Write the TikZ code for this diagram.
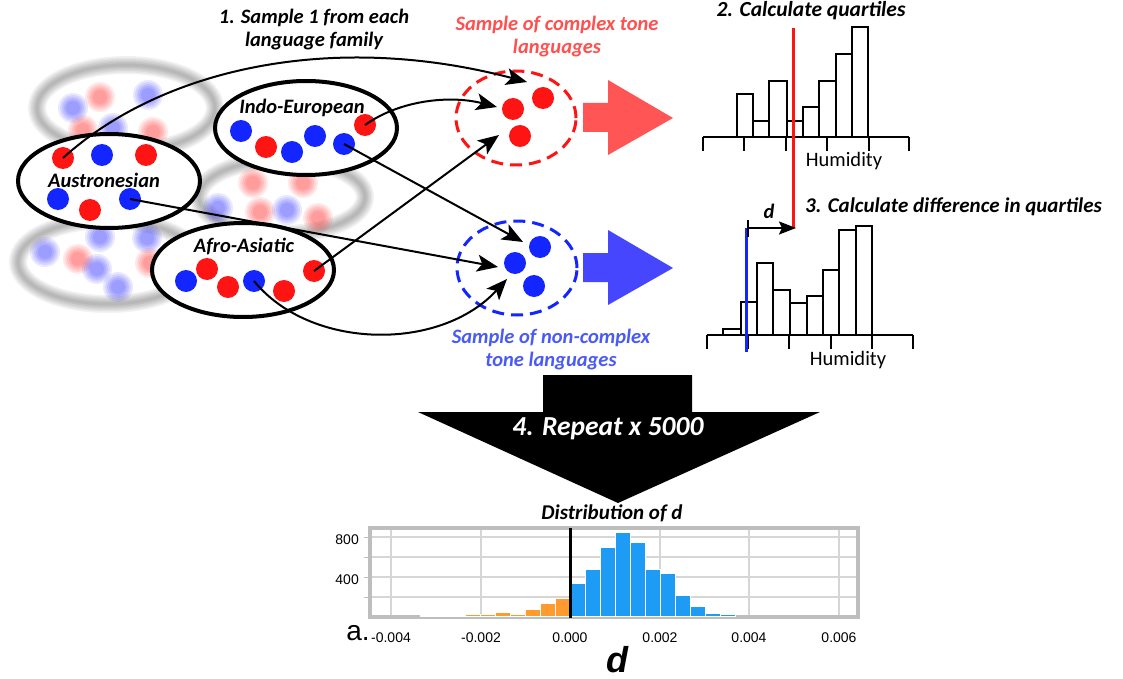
\documentclass[tikz,border=0pt]{standalone}
\usepackage{fontspec}
\setmainfont{Carlito}
\newfontfamily\arialf{Liberation Sans}
\usetikzlibrary{arrows.meta,shapes.geometric}
\definecolor{dotred}{HTML}{FF1414}
\definecolor{dotblue}{HTML}{1426FF}
\definecolor{lblred}{HTML}{FF5050}
\definecolor{lblblue}{HTML}{4A5AF5}
\definecolor{arrred}{HTML}{FF5555}
\definecolor{arrblue}{HTML}{4646FF}
\definecolor{histblue}{HTML}{1E9BF5}
\definecolor{historange}{HTML}{FF9A2E}
\definecolor{framegray}{HTML}{BEBEBE}
\definecolor{gridgray}{HTML}{D6D6D6}
\begin{document}
\begin{tikzpicture}[x=1pt,y=-1pt,
  rdot/.style={circle,fill=dotred,minimum size=22pt,inner sep=0pt},
  bdot/.style={circle,fill=dotblue,minimum size=22pt,inner sep=0pt},
  fam/.style={ellipse,draw,line width=4pt,fill=white,inner sep=0pt,minimum width=182pt,minimum height=94pt},
  samp/.style={ellipse,line width=3pt,dash pattern=on 12pt off 7pt,inner sep=0pt,minimum width=120pt,minimum height=94pt},
  bi/.style={font=\fontsize{20.5}{23}\selectfont\bfseries\itshape,align=center,inner sep=0pt},
  conn/.style={line width=2pt,-{Stealth[length=21pt,width=17pt,inset=5pt]}},
  hbar/.style={draw=black,line width=1.4pt,fill=white},
  haxis/.style={line width=1.8pt},
  tick/.style={line width=1.2pt},
  hum/.style={font=\fontsize{20.5}{23}\selectfont,inner sep=0pt},
  axl/.style={font=\arialf\fontsize{14}{16}\selectfont,inner sep=0pt},
]
\useasboundingbox (0,0) rectangle (1123,679);
\fill[white] (0,0) rectangle (1123,679);

% ---------- blurred background families ----------
\foreach \cx/\cy/\rx/\ry in {126/108/89/43, 282/197/83/37, 108/262/90/42}{
  \foreach \w in {18,15,12,9,6,3}
    \draw[black,opacity=0.05,line width=\w pt] (\cx,\cy) ellipse [x radius=\rx pt, y radius=\ry pt];
}
\foreach \px/\py/\c in {73/108/blue,100/97/red,148/95/blue,83/130/red,113/128/blue,153/132/red,
  253/183/red,303/183/red,218/208/blue,260/212/red,287/210/blue,318/218/red,
  45/252/blue,78/259/red,100/237/blue,147/238/blue,97/269/blue,118/287/blue,150/263/red}{
  \foreach \r in {15,13,11,9,7}
    \fill[\c,opacity=0.09] (\px,\py) circle (\r pt);
}

% ---------- language families ----------
\node[fam] (austro) at (109,181) {};
\node[bi] (austroL) at (104,180) {Austronesian};
\node[rdot] (a1) at (63,158) {};
\node[bdot] (a2) at (102,155) {};
\node[rdot] (a3) at (146,155) {};
\node[bdot] (a4) at (58,199) {};
\node[rdot] (a5) at (90,210) {};
\node[bdot] (a6) at (130,199) {};

\node[fam] (indo) at (306,128) {};
\node[bi] (indoL) at (302,108) {Indo-European};
\node[bdot] (i1) at (241,131) {};
\node[rdot] (i2) at (266,147) {};
\node[bdot] (i3) at (292,152) {};
\node[bdot] (i4) at (315,136) {};
\node[bdot] (i5) at (344,144) {};
\node[rdot] (i6) at (365,125) {};

\node[fam] (afro) at (243,270) {};
\node[bi] (afroL) at (244,246) {Afro-Asiatic};
\node[bdot] (f1) at (186,281) {};
\node[rdot] (f2) at (207,269) {};
\node[rdot] (f3) at (228,287) {};
\node[bdot] (f4) at (254,281) {};
\node[rdot] (f5) at (284,291) {};
\node[rdot] (f6) at (314,271) {};

% ---------- samples ----------
\node[samp,draw=dotred] (cplx) at (516,118) {};
\node[rdot] (c1) at (513,109) {};
\node[rdot] (c2) at (543,98) {};
\node[rdot] (c3) at (520,136) {};
\node[samp,draw=dotblue] (ncplx) at (517,268) {};
\node[bdot] (n1) at (515,263) {};
\node[bdot] (n2) at (540,247) {};
\node[bdot] (n3) at (534,286) {};

\node[bi,text=lblred] (cplxL) at (557,37) {Sample of complex tone\\languages};
\node[bi,text=lblblue] (ncplxL) at (551,350) {Sample of non-complex\\tone languages};
\node[bi] (step1) at (314,30) {1. Sample 1 from each\\language family};

% ---------- connectors ----------
\coordinate (t1) at (527,82);
\coordinate (t2) at (497,107);
\coordinate (t3) at (523,242);
\coordinate (t4) at (498,267);
\coordinate (t5) at (499,135);
\coordinate (t6) at (507,279);
\draw[conn] (a1.center) .. controls (160,70) and (330,30) .. (t1);
\draw[conn] (i6.center) .. controls (400,100) and (450,95) .. (t2);
\draw[conn] (i5.center) -- (t3);
\draw[conn] (a6.center) -- (t4);
\draw[conn] (f6.center) -- (t5);
\draw[conn] (f4.center) .. controls (310,350) and (440,352) .. (t6);

% ---------- block arrows ----------
\fill[arrred] (583,103) -- (608,103) -- (608,80) -- (673,118) -- (608,155) -- (608,132) -- (583,132) -- cycle;
\fill[arrblue] (583,253) -- (608,253) -- (608,230) -- (673,268) -- (608,305) -- (608,282) -- (583,282) -- cycle;

% ---------- histogram 1 ----------
\node[bi,font=\fontsize{21.5}{24}\selectfont\bfseries\itshape] (step2) at (811,11) {2. Calculate quartiles};
\foreach \a/\b/\t in {737/753/94,753/769/121,769/787/81,787/803/121,803/819/107,819/836/81,836/852/54,852/868/27}
  \draw[hbar] (\a,137) rectangle (\b,\t);
\draw[haxis] (703,137) -- (909,137);
\foreach \tx in {703,744,786,827,869,909} \draw[tick] (\tx,137) -- (\tx,151);
\node[hum] (hum1) at (844,161) {Humidity};

% ---------- histogram 2 ----------
\node[bi,anchor=west,font=\fontsize{21}{24}\selectfont\bfseries\itshape] (step3) at (805,207) {3. Calculate difference in quartiles};
\draw[hbar] (723,335) rectangle (741,329);
\foreach \a/\b/\t in {741/757/302,757/773/263,773/790/290,790/807/303,807/823/296,823/839/270,839/856/230,856/872/226}
  \draw[hbar] (\a,335) rectangle (\b,\t);
\draw[haxis] (707,335) -- (913,335);
\foreach \tx in {707,748,789,831,872,913} \draw[tick] (\tx,335) -- (\tx,349);
\node[hum] (hum2) at (848,360) {Humidity};

% quartile lines
\draw[dotred,line width=3pt] (793,28) -- (793,228);
\draw[dotblue,line width=3pt] (746,228) -- (746,352);
\coordinate (dS) at (748,228);
\coordinate (dE) at (796,228);
\draw[line width=2pt] (748,220) -- (748,237);
\draw[line width=2pt,-{Stealth[length=17pt,width=13pt,inset=3pt]}] (dS) -- (dE);
\node[bi] (dlab) at (769,211) {d};

% ---------- repeat arrow ----------
\fill[black] (543,375) -- (692,375) -- (692,412) -- (820,412) -- (618,503) -- (418,412) -- (543,412) -- cycle;
\node[bi,text=white,font=\fontsize{27.5}{30}\selectfont\bfseries\itshape] (step4) at (608,429) {4. Repeat x 5000};

% ---------- distribution of d ----------
\node[bi,font=\fontsize{21}{24}\selectfont\bfseries\itshape] (distL) at (612,513) {Distribution of d};
\foreach \gy in {537,557,577,597} \draw[gridgray,line width=1.5pt] (372,\gy) -- (856,\gy);
\foreach \gx in {391,481,660,749,839} \draw[gridgray,line width=1.5pt] (\gx,530) -- (\gx,616);
\draw[framegray,line width=4pt] (370,528) rectangle (858,617);
\foreach \gy in {537,557,577,597} \draw[framegray,line width=1pt] (364,\gy) -- (369,\gy);
\foreach \a/\b/\t in {420/435/615,435/450/615,450/465/614.8,465/480/614.5,480/495/614,495/510/612.7,510/525/614,525/540/609,540/555/603,555/570/598}
  \draw[draw=white,line width=0.6pt,fill=historange] (\a,616) rectangle (\b,\t);
\foreach \a/\b/\t in {570/585/583,585/600/569,600/615/547,615/630/532,630/645/542,645/660/569,660/675/573,675/690/595,690/705/606,705/720/613,720/735/614.5}
  \draw[draw=white,line width=0.6pt,fill=histblue] (\a,616) rectangle (\b,\t);
\draw[black,line width=3pt] (570,528) -- (570,618);
\node[axl,anchor=east] (y800) at (359,540) {800};
\node[axl,anchor=east] (y400) at (359,580) {400};
\foreach \v/\gx in {-0.004/391,-0.002/481,0.000/570,0.002/660,0.004/749,0.006/839}
  \node[axl] at (\gx,638) {\v};
\node[font=\arialf\fontsize{28}{30}\selectfont,inner sep=0pt,anchor=base] (alab) at (358,640) {a.};
\node[font=\arialf\fontsize{36}{40}\selectfont\bfseries\itshape,inner sep=0pt,anchor=base] (dbig) at (617,672) {d};
\end{tikzpicture}
\end{document}
